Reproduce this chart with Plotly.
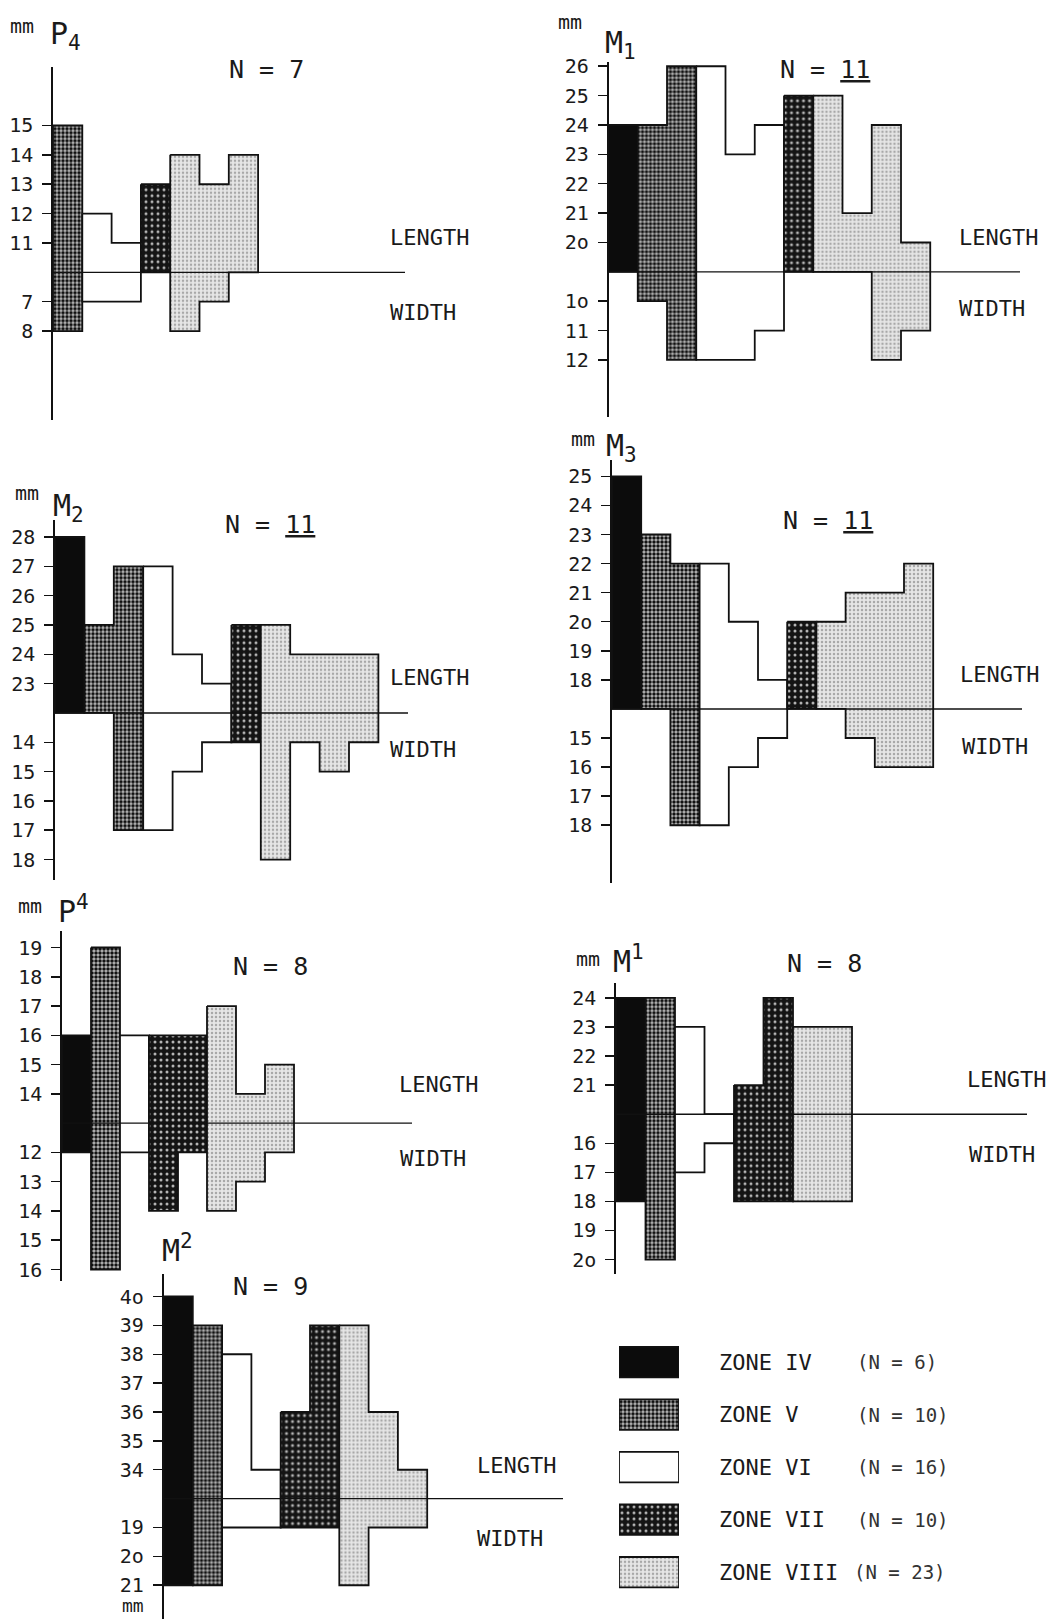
import plotly.graph_objects as go

W, H = 1058, 1619
FONT = "DejaVu Sans Mono"
LABFONT = "DejaVu Sans Mono"

# ---------------- data ----------------
ZONES = ["IV", "V", "VI", "VII", "VIII"]
ZONE_N = [6, 10, 16, 10, 23]

# lower P4
P4L_ZONE = ["V", "VI", "VI", "VII", "VIII", "VIII", "VIII"]
P4L_LENGTH = [15, 12, 11, 13, 14, 13, 14]
P4L_WIDTH = [8, 7, 7, None, 8, 7, None]
P4L_LTICKS = [11, 12, 13, 14, 15]
P4L_WTICKS = [7, 8]
P4L_BASE = [10, 6]

# lower M1
M1L_ZONE = ["IV", "V", "V", "VI", "VI", "VI", "VII", "VIII", "VIII", "VIII", "VIII"]
M1L_LENGTH = [24, 24, 26, 26, 23, 24, 25, 25, 21, 24, 20]
M1L_WIDTH = [None, 10, 12, 12, 12, 11, None, None, None, 12, 11]
M1L_LTICKS = [20, 21, 22, 23, 24, 25, 26]
M1L_WTICKS = [10, 11, 12]
M1L_BASE = [19, 9]

# lower M2
M2L_ZONE = ["IV", "V", "V", "VI", "VI", "VI", "VII", "VIII", "VIII", "VIII", "VIII"]
M2L_LENGTH = [28, 25, 27, 27, 24, 23, 25, 25, 24, 24, 24]
M2L_WIDTH = [None, None, 17, 17, 15, 14, 14, 18, 14, 15, 14]
M2L_LTICKS = [23, 24, 25, 26, 27, 28]
M2L_WTICKS = [14, 15, 16, 17, 18]
M2L_BASE = [22, 13]

# lower M3
M3L_ZONE = ["IV", "V", "V", "VI", "VI", "VI", "VII", "VIII", "VIII", "VIII", "VIII"]
M3L_LENGTH = [25, 23, 22, 22, 20, 18, 20, 20, 21, 21, 22]
M3L_WIDTH = [None, None, 18, 18, 16, 15, None, None, 15, 16, 16]
M3L_LTICKS = [18, 19, 20, 21, 22, 23, 24, 25]
M3L_WTICKS = [15, 16, 17, 18]
M3L_BASE = [17, 14]

# upper P4
P4U_ZONE = ["IV", "V", "VI", "VII", "VII", "VIII", "VIII", "VIII"]
P4U_LENGTH = [16, 19, 16, 16, 16, 17, 14, 15]
P4U_WIDTH = [12, 16, 12, 14, 12, 14, 13, 12]
P4U_LTICKS = [14, 15, 16, 17, 18, 19]
P4U_WTICKS = [12, 13, 14, 15, 16]
P4U_BASE = [13, 11]

# upper M1
M1U_ZONE = ["IV", "V", "VI", "VI", "VII", "VII", "VIII", "VIII"]
M1U_LENGTH = [24, 24, 23, None, 21, 24, 23, 23]
M1U_WIDTH = [18, 20, 17, 16, 18, 18, 18, 18]
M1U_LTICKS = [21, 22, 23, 24]
M1U_WTICKS = [16, 17, 18, 19, 20]
M1U_BASE = [20, 15]

# upper M2
M2U_ZONE = ["IV", "V", "VI", "VI", "VII", "VII", "VIII", "VIII", "VIII"]
M2U_LENGTH = [40, 39, 38, 34, 36, 39, 39, 36, 34]
M2U_WIDTH = [21, 21, 19, 19, 19, 19, 21, 19, 19]
M2U_LTICKS = [34, 35, 36, 37, 38, 39, 40]
M2U_WTICKS = [19, 20, 21]
M2U_BASE = [33, 18]

PANEL_DATA = [
    (P4L_ZONE, P4L_LENGTH, P4L_WIDTH, P4L_LTICKS, P4L_WTICKS, P4L_BASE, "P<sub>4</sub>", 7),
    (M1L_ZONE, M1L_LENGTH, M1L_WIDTH, M1L_LTICKS, M1L_WTICKS, M1L_BASE, "M<sub>1</sub>", 11),
    (M2L_ZONE, M2L_LENGTH, M2L_WIDTH, M2L_LTICKS, M2L_WTICKS, M2L_BASE, "M<sub>2</sub>", 11),
    (M3L_ZONE, M3L_LENGTH, M3L_WIDTH, M3L_LTICKS, M3L_WTICKS, M3L_BASE, "M<sub>3</sub>", 11),
    (P4U_ZONE, P4U_LENGTH, P4U_WIDTH, P4U_LTICKS, P4U_WTICKS, P4U_BASE, "P<sup>4</sup>", 8),
    (M1U_ZONE, M1U_LENGTH, M1U_WIDTH, M1U_LTICKS, M1U_WTICKS, M1U_BASE, "M<sup>1</sup>", 8),
    (M2U_ZONE, M2U_LENGTH, M2U_WIDTH, M2U_LTICKS, M2U_WTICKS, M2U_BASE, "M<sup>2</sup>", 9),
]

# ---------------- layout geometry (pixels) ----------------
# axis x, baseline y, px per mm, px per column, axis top, axis bottom, baseline end
GEOM = [
    dict(ax=53, base=266.5, uy=29.5, ux=29.3, top=60, bot=415, end=405),
    dict(ax=608.5, base=266, uy=29.5, ux=29.25, top=55, bot=412, end=1020),
    dict(ax=55, base=709, uy=29.45, ux=29.4, top=515, bot=877, end=408),
    dict(ax=612, base=705, uy=29.2, ux=29.2, top=455, bot=880, end=1022),
    dict(ax=62, base=1121, uy=29.4, ux=29.0, top=928, bot=1280, end=412),
    dict(ax=616, base=1112, uy=29.2, ux=29.5, top=980, bot=1272, end=1027),
    dict(ax=163.5, base=1502, uy=29.5, ux=29.3, top=1273, bot=1625, end=563),
]
# text positions (pixels)
MM_POS = [(22, 19), (570, 15), (27, 488), (583, 434), (30, 903), (588, 956), (133, 1605)]
LABEL_POS = [(48, 29), (603, 38), (51, 503), (604, 442), (56, 906), (611, 957), (160, 1247)]
NLAB_POS = [(266, 63), (825, 63), (270, 520), (828, 516), (270, 964), (824, 961), (270, 1285)]
LEN_POS = [(388, 232), (957, 231), (388, 673), (958, 670), (397, 1082), (965, 1077), (475, 1465)]
WID_POS = [(388, 307), (957, 303), (388, 746), (960, 743), (398, 1156), (967, 1152), (475, 1538)]

STYLE = {
    "IV": dict(fillcolor="#0c0c0c"),
    "V": dict(fillpattern=dict(shape=".", fgcolor="#111111", bgcolor="#bdbdbd", size=4, solidity=0.6, fillmode="replace")),
    "VI": dict(fillcolor="white"),
    "VII": dict(fillpattern=dict(shape=".", fgcolor="#b5b5b5", bgcolor="#141414", size=6, solidity=0.2, fillmode="replace")),
    "VIII": dict(fillpattern=dict(shape=".", fgcolor="#a8a8a8", bgcolor="#e6e6e6", size=4, solidity=0.3, fillmode="replace")),
}
LINE = dict(color="#111111", width=1.8)


def tick_text(v):
    s = str(v)
    return s[:-1] + "o" if s.endswith("0") else s


def groups(zones):
    out = []
    start = 0
    for i in range(1, len(zones) + 1):
        if i == len(zones) or zones[i] != zones[start]:
            out.append((zones[start], start, i - 1))
            start = i
    return out


def px_x(p):
    return p / W


def px_y(p):
    return 1 - p / H


fig = go.Figure()
annotations = []


def ann(text, x, y, size, xanchor="center", yanchor="middle", color="#1a1a1a", family=FONT):
    annotations.append(dict(text=text, x=px_x(x), y=px_y(y), xref="paper", yref="paper",
                            xanchor=xanchor, yanchor=yanchor, showarrow=False,
                            font=dict(family=family, size=size, color=color)))


for k, (data, g) in enumerate(zip(PANEL_DATA, GEOM), start=1):
    zones, lengths, widths, lt, wt, base, label, n = data
    xr = f"x{k}"
    yr = f"y{k}"
    tops = [(l - base[0]) if l is not None else 0 for l in lengths]
    bots = [-(w - base[1]) if w is not None else 0 for w in widths]
    for zone, a, b in groups(zones):
        xs, ys = [a], [tops[a]]
        for i in range(a, b + 1):
            xs += [i, i + 1]
            ys += [tops[i], tops[i]]
        xs.append(b + 1)
        ys.append(bots[b])
        for i in range(b, a - 1, -1):
            xs += [i + 1, i]
            ys += [bots[i], bots[i]]
        xs.append(a)
        ys.append(tops[a])
        fig.add_trace(go.Scatter(x=xs, y=ys, mode="lines", fill="toself", line=LINE,
                                 xaxis=xr, yaxis=yr, showlegend=False, hoverinfo="skip",
                                 cliponaxis=False, **STYLE[zone]))
    xmax = (g["end"] - g["ax"]) / g["ux"]
    fig.add_trace(go.Scatter(x=[-7 / g["ux"], xmax], y=[0, 0], mode="lines",
                             line=dict(color="#111111", width=1.4), xaxis=xr, yaxis=yr,
                             showlegend=False, hoverinfo="skip", cliponaxis=False))
    tickvals = [v - base[0] for v in lt] + [-(v - base[1]) for v in wt]
    ticktext = [tick_text(v) for v in lt] + [tick_text(v) for v in wt]
    sfx = "" if k == 1 else str(k)
    fig.layout["xaxis" + sfx] = dict(domain=[px_x(g["ax"]), px_x(g["end"])], range=[0, xmax],
                                     visible=False, anchor=yr, fixedrange=True)
    fig.layout["yaxis" + sfx] = dict(domain=[max(0, px_y(g["bot"])), px_y(g["top"])],
                                     range=[-(g["bot"] - g["base"]) / g["uy"], (g["base"] - g["top"]) / g["uy"]],
                                     anchor=xr, showline=True, linecolor="#111111", linewidth=1.6,
                                     ticks="outside", ticklen=9, tickwidth=1.5, tickcolor="#111111",
                                     tickvals=tickvals, ticktext=ticktext, ticklabelstandoff=5,
                                     tickfont=dict(family=FONT, size=20, color="#1a1a1a"),
                                     showgrid=False, zeroline=False, fixedrange=True)
    ann("mm", *MM_POS[k - 1], 18 if k == len(PANEL_DATA) else 20)
    lx, ly = LABEL_POS[k - 1]
    ann(label, lx, ly, 30, xanchor="left", family=LABFONT)
    ntxt = f"N = <u>{n}</u>" if n == 11 else f"N = {n}"
    ann(ntxt, *NLAB_POS[k - 1], 25, family=LABFONT)
    ann("LENGTH", *LEN_POS[k - 1], 22, xanchor="left")
    ann("WIDTH", *WID_POS[k - 1], 22, xanchor="left")

# ---------------- legend (own small axes) ----------------
LEG = dict(x0=619, x1=679, top=1334.6, bot=1598.4)
kk = len(PANEL_DATA) + 1
for i, zone in enumerate(ZONES):
    y0, y1 = i + 0.5 - 0.29, i + 0.5 + 0.29
    fig.add_trace(go.Scatter(x=[0, 1, 1, 0, 0], y=[y0, y0, y1, y1, y0], mode="lines", fill="toself",
                             line=LINE, xaxis=f"x{kk}", yaxis=f"y{kk}", showlegend=False,
                             hoverinfo="skip", cliponaxis=False, **STYLE[zone]))
    cy = LEG["top"] + (i + 0.5) * (LEG["bot"] - LEG["top"]) / len(ZONES)
    ann(f"ZONE {zone}", 717, cy, 22, xanchor="left")
    ann(f"(N = {ZONE_N[i]})", 855 if zone != "VIII" else 852, cy, 19, xanchor="left", color="#333333")
fig.layout[f"xaxis{kk}"] = dict(domain=[px_x(LEG["x0"]), px_x(LEG["x1"])], range=[0, 1],
                                visible=False, anchor=f"y{kk}")
fig.layout[f"yaxis{kk}"] = dict(domain=[px_y(LEG["bot"]), px_y(LEG["top"])], range=[len(ZONES), 0],
                                visible=False, anchor=f"x{kk}")

fig.update_layout(width=W, height=H, margin=dict(l=0, r=0, t=0, b=0), autosize=False,
                  paper_bgcolor="white", plot_bgcolor="rgba(0,0,0,0)",
                  annotations=annotations, showlegend=False)

fig.write_html("out.html", post_script="document.body.style.margin='0';",
               config=dict(displayModeBar=False, staticPlot=True))
